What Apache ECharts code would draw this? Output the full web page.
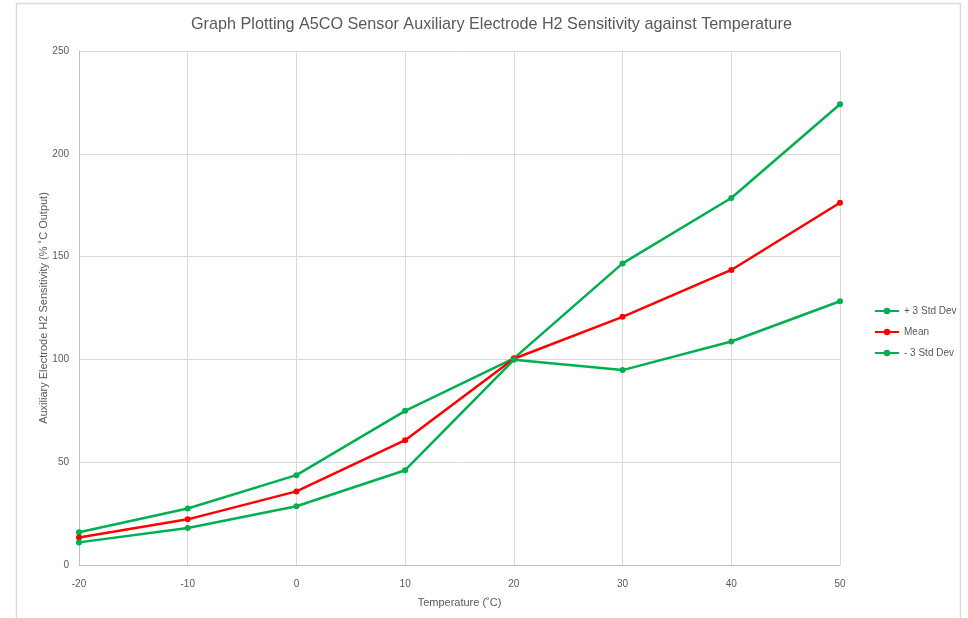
<!DOCTYPE html>
<html>
<head>
<meta charset="utf-8">
<script src="https://cdn.jsdelivr.net/npm/echarts@6/dist/echarts.min.js"></script>
<style>
  html, body { margin: 0; padding: 0; background: #fff; }
  #main { width: 968px; height: 618px; }
</style>
</head>
<body>
<div id="main"></div>
<script>
var temps = [-20, -10, 0, 10, 20, 30, 40, 50];
var plus3 = [15.9, 27.5, 43.7, 75.0, 100.5, 146.7, 178.5, 224.1];
var mean = [13.4, 22.2, 35.8, 60.7, 100.3, 120.7, 143.5, 176.2];
var minus3 = [11.0, 18.0, 28.6, 46.1, 99.8, 94.8, 108.7, 128.3];

function pairs(xs, ys) {
  return xs.map(function (x, i) { return [x, ys[i]]; });
}

var myChart = echarts.init(document.getElementById('main'));
var font = 'Liberation Sans';

myChart.setOption({
  backgroundColor: '#fff',
  animation: false,
  title: {
    text: 'Graph Plotting A5CO Sensor Auxiliary Electrode H2 Sensitivity against Temperature',
    left: 186,
    top: 12,
    textStyle: { color: '#595959', fontSize: 16.2, fontWeight: 'normal', fontFamily: font }
  },
  graphic: [{
    type: 'rect',
    shape: { x: 16.5, y: 3.5, width: 944, height: 630 },
    style: { fill: 'none', stroke: '#d9d9d9', lineWidth: 1.5 }
  }],
  legend: {
    orient: 'vertical',
    left: 869,
    top: 301,
    itemGap: 11,
    itemWidth: 24,
    itemHeight: 8,
    textStyle: { color: '#595959', fontSize: 10, fontFamily: font },
    data: ['+ 3 Std Dev', 'Mean', '- 3 Std Dev']
  },
  grid: { left: 79, right: 128, top: 51, bottom: 53 },
  xAxis: {
    type: 'value',
    min: -20,
    max: 50,
    interval: 10,
    name: 'Temperature (˚C)',
    nameLocation: 'middle',
    nameGap: 32,
    nameTextStyle: { color: '#595959', fontSize: 11, fontFamily: font },
    axisLine: { lineStyle: { color: '#bfbfbf' } },
    axisTick: { show: false },
    axisLabel: { color: '#595959', fontSize: 10, fontFamily: font, margin: 14 },
    splitLine: { lineStyle: { color: '#d9d9d9' } }
  },
  yAxis: {
    type: 'value',
    min: 0,
    max: 250,
    interval: 50,
    name: 'Auxiliary Electrode H2 Sensitivity (% ˚C Output)',
    nameLocation: 'middle',
    nameGap: 30,
    nameMoveOverlap: false,
    nameTextStyle: { color: '#595959', fontSize: 11, fontFamily: font },
    axisLine: { show: true, onZero: false, lineStyle: { color: '#bfbfbf' } },
    axisTick: { show: false },
    axisLabel: { color: '#595959', fontSize: 10, fontFamily: font, margin: 10 },
    splitLine: { lineStyle: { color: '#d9d9d9' } }
  },
  series: [
    {
      name: '+ 3 Std Dev',
      type: 'line',
      symbol: 'circle',
      symbolSize: 6,
      color: '#00b050',
      lineStyle: { width: 2.5 },
      data: pairs(temps, plus3)
    },
    {
      name: 'Mean',
      type: 'line',
      symbol: 'circle',
      symbolSize: 6,
      color: '#ff0000',
      lineStyle: { width: 2.5 },
      data: pairs(temps, mean)
    },
    {
      name: '- 3 Std Dev',
      type: 'line',
      symbol: 'circle',
      symbolSize: 6,
      color: '#00b050',
      lineStyle: { width: 2.5 },
      data: pairs(temps, minus3)
    }
  ]
});
</script>
</body>
</html>
